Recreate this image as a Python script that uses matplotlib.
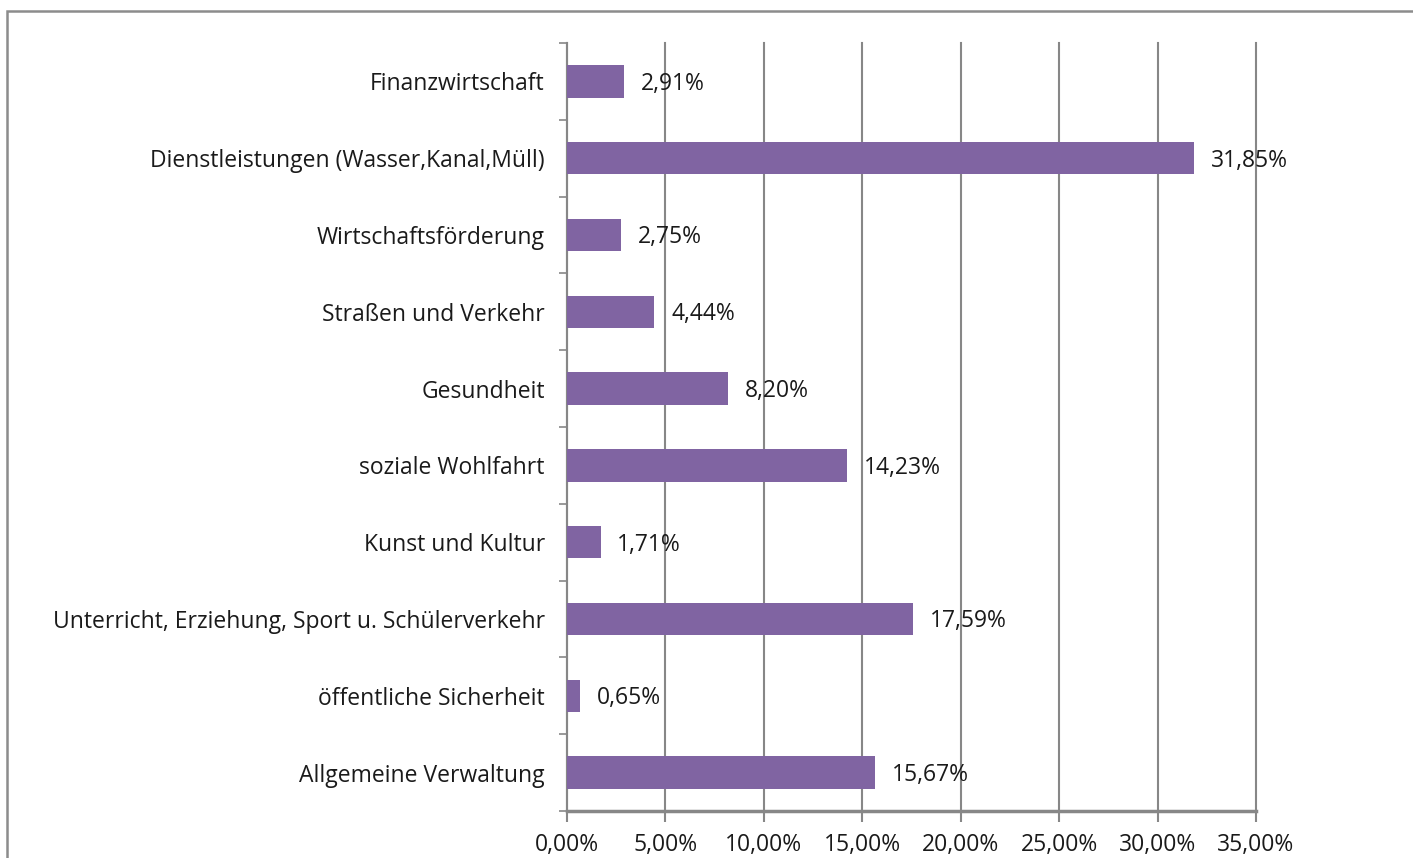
import numpy as np
import matplotlib
matplotlib.use('Agg')
from matplotlib import pyplot as plt
from matplotlib.patches import Rectangle

plt.rcParams['font.family'] = ['Open Sans', 'DejaVu Sans']

# data, bottom to top as drawn
categories = ['Allgemeine Verwaltung', 'öffentliche Sicherheit',
              'Unterricht, Erziehung, Sport u. Schülerverkehr', 'Kunst und Kultur',
              'soziale Wohlfahrt', 'Gesundheit', 'Straßen und Verkehr',
              'Wirtschaftsförderung', 'Dienstleistungen (Wasser,Kanal,Müll)',
              'Finanzwirtschaft']
shares = [15.67, 0.65, 17.59, 1.71, 14.23, 8.20, 4.44, 2.75, 31.85, 2.91]
xticks = [0, 5, 10, 15, 20, 25, 30, 35]

bar_color = '#8064A2'
grid_color = '#878787'
txt_color = '#1a1a1a'
fs = 16.5

fig = plt.figure(figsize=(14.13, 8.58), dpi=100)
ax = fig.add_axes([567 / 1413, 47 / 858, 689 / 1413, 768 / 858])

ypos = np.arange(len(categories))
ax.barh(ypos, shares, height=0.42, color=bar_color, zorder=3)
for y, v in zip(ypos, shares):
    ax.text(v + 0.85, y - 0.03, '{:.2f}%'.format(v).replace('.', ','), va='center', ha='left',
            fontsize=fs, color=txt_color, zorder=4)

ax.set_xlim(0, 35)
ax.set_ylim(-0.5, len(categories) - 0.5)
ax.set_xticks(xticks)
ax.set_xticklabels(['{:.2f}%'.format(t).replace('.', ',') for t in xticks], fontsize=fs, color=txt_color)
ax.xaxis.grid(True, color=grid_color, linewidth=1.5, zorder=0)
for gl in ax.get_xgridlines():
    gl.set_clip_on(False)

ax.set_yticks(ypos)
ax.set_yticklabels(categories, fontsize=fs, color=txt_color)
ax.set_yticks(np.arange(-0.5, len(categories)), minor=True)
ax.tick_params(axis='y', which='major', length=0, pad=16)
ax.tick_params(axis='y', which='minor', length=6, width=1.2, color=grid_color)
# labels sit low as in the reference, but kept inside the canvas
ax.tick_params(axis='x', length=8, width=1.5, color=grid_color, pad=8)

for s in ['top', 'right']:
    ax.spines[s].set_visible(False)
ax.spines['left'].set_color(grid_color)
ax.spines['left'].set_linewidth(1.5)
ax.spines['bottom'].set_color(grid_color)
ax.spines['bottom'].set_linewidth(2.5)

# outer chart border
fig.patches.append(Rectangle((7 / 1413, -0.1), 1.2, 0.1 + (858 - 11) / 858, transform=fig.transFigure,
                             fill=False, edgecolor='#8c8c8c', linewidth=1.8))

fig.savefig('out.png', dpi=100)
